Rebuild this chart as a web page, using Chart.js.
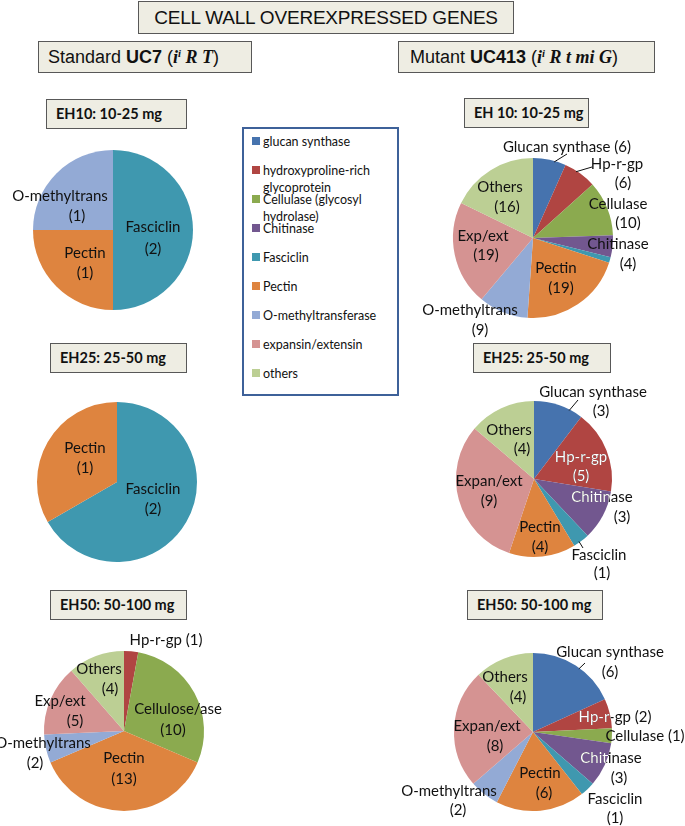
<!DOCTYPE html>
<html>
<head>
<meta charset="utf-8">
<script src="https://cdn.jsdelivr.net/npm/chart.js@4.4.1/dist/chart.umd.min.js"></script>
<style>
  body { margin: 0; background: #fff; }
  #page { position: relative; width: 685px; height: 826px; overflow: hidden; font-family: Lato, "Open Sans", sans-serif; }
  .box { position: absolute; box-sizing: border-box; background: #eeede3; border: 1px solid #585858; white-space: nowrap; }
  .head { font-family: "Liberation Sans", Arial, sans-serif; color: #111; }
  .serif { font-family: "Liberation Serif", "Times New Roman", serif; font-style: italic; font-weight: bold; }
  .serif sup { font-size: 60%; vertical-align: 6px; line-height: 0; }
  .sub { font-weight: bold; font-size: 14.5px; color: #111; line-height: 28px; padding-left: 9px; }
  #legend { position: absolute; left: 242px; top: 127px; width: 157px; height: 269px; box-sizing: border-box; border: 2px solid #3e6199; background: #fff; }
  .lg-sw { position: absolute; width: 8px; height: 8px; }
  .lg-tx { position: absolute; font-size: 12.5px; line-height: 17px; color: #111; white-space: nowrap; }
  canvas { position: absolute; }
</style>
</head>
<body>
<div id="page">
  <div class="box head" style="left:138px;top:1px;width:376px;height:33px;font-size:19px;letter-spacing:-0.2px;text-align:center;line-height:31px;">CELL WALL OVEREXPRESSED GENES</div>
  <div class="box head" style="left:38px;top:41px;width:214px;height:32px;font-size:18px;line-height:30px;padding-left:9px;">Standard <b>UC7</b> (<span class="serif">i<sup>i</sup> R T</span>)</div>
  <div class="box head" style="left:398px;top:41px;width:257px;height:32px;font-size:18px;line-height:30px;padding-left:11px;">Mutant <b>UC413</b> (<span class="serif">i<sup>i</sup> R t mi G</span>)</div>

  <div class="box sub" style="left:46px;top:99px;width:141px;height:30px;">EH10: 10-25 mg</div>
  <div class="box sub" style="left:464px;top:98px;width:125px;height:30px;">EH 10: 10-25 mg</div>
  <div class="box sub" style="left:50px;top:343px;width:137px;height:30px;">EH25: 25-50 mg</div>
  <div class="box sub" style="left:473px;top:343px;width:138px;height:30px;">EH25: 25-50 mg</div>
  <div class="box sub" style="left:50px;top:590px;width:137px;height:30px;">EH50: 50-100 mg</div>
  <div class="box sub" style="left:467px;top:590px;width:136px;height:30px;">EH50: 50-100 mg</div>

  <div id="legend"></div>

  <canvas id="s10"></canvas>
  <canvas id="m10"></canvas>
  <canvas id="s25"></canvas>
  <canvas id="m25"></canvas>
  <canvas id="s50"></canvas>
  <canvas id="m50"></canvas>
</div>

<script>
// Gene categories (legend order = slice order, clockwise from 12 o'clock)
const categories = [
  ["glucan synthase"],
  ["hydroxyproline-rich", "glycoprotein"],
  ["Cellulase (glycosyl", "hydrolase)"],
  ["Chitinase"],
  ["Fasciclin"],
  ["Pectin"],
  ["O-methyltransferase"],
  ["expansin/extensin"],
  ["others"]
];

// Number of overexpressed genes per category
const standardEH10 = [0, 0, 0, 0, 2, 1, 1, 0, 0];
const standardEH25 = [0, 0, 0, 0, 2, 1, 0, 0, 0];
const standardEH50 = [0, 1, 10, 0, 0, 13, 2, 5, 4];
const mutantEH10 = [6, 6, 10, 4, 1, 19, 9, 19, 16];
const mutantEH25 = [3, 5, 0, 3, 1, 4, 0, 9, 4];
const mutantEH50 = [6, 2, 1, 3, 1, 6, 2, 8, 4];

const colors = ["#4673ae", "#b04542", "#8baa4f", "#72578f", "#3f98af",
                "#de843f", "#93aad5", "#d59392", "#bccf94"];

// Legend
const legendEl = document.getElementById("legend");
categories.forEach((lines, i) => {
  const yc = 141 + 29 * i - 127 - 2;
  const sw = document.createElement("div");
  sw.className = "lg-sw";
  sw.style.background = colors[i];
  sw.style.left = (252 - 244) + "px";
  sw.style.top = (yc - 4) + "px";
  legendEl.appendChild(sw);
  const tx = document.createElement("div");
  tx.className = "lg-tx";
  tx.style.left = (263 - 244) + "px";
  tx.style.top = (yc - 8.5) + "px";
  tx.innerHTML = lines.join("<br>");
  legendEl.appendChild(tx);
});

// Slice labels: [text, x, y, slice index for white text inside that slice]
// Leaders: [slice index, position along the arc (0..1), end x, end y]
const pies = [
  { id: "s10", data: standardEH10, cx: 113, cy: 230, r: 80, x0: 0, y0: 132, w: 240, h: 200,
    texts: [["O-methyltrans", 60, 196], ["(1)", 77, 216], ["Pectin", 85, 253], ["(1)", 85, 273],
            ["Fasciclin", 153, 227], ["(2)", 153, 249]],
    leaders: [] },
  { id: "m10", data: mutantEH10, cx: 533, cy: 238, r: 80, x0: 395, y0: 135, w: 290, h: 208,
    texts: [["Glucan synthase (6)", 567, 147], ["Hp-r-gp", 617, 164], ["(6)", 623, 183],
            ["Cellulase", 618, 204], ["(10)", 628, 223], ["Chitinase", 618, 244], ["(4)", 628, 264],
            ["Pectin", 556, 268], ["(19)", 561, 288], ["O-methyltrans", 470, 310], ["(9)", 480, 330],
            ["Exp/ext", 483, 236], ["(19)", 486, 255], ["Others", 500, 187], ["(16)", 507, 207]],
    leaders: [[0, 0.65, 567, 154], [1, 0.375, 592, 167]] },
  { id: "s25", data: standardEH25, cx: 117, cy: 482, r: 80, x0: 0, y0: 390, w: 240, h: 180,
    texts: [["Pectin", 85, 448], ["(1)", 85, 468], ["Fasciclin", 153, 489], ["(2)", 153, 509]],
    leaders: [] },
  { id: "m25", data: mutantEH25, cx: 534, cy: 479, r: 78, x0: 395, y0: 378, w: 290, h: 206,
    texts: [["Glucan synthase", 593, 392], ["(3)", 601, 411], ["Others", 509, 430], ["(4)", 522, 449],
            ["Hp-r-gp", 581, 457, 1], ["(5)", 581, 476, 1], ["Chitinase", 602, 497, 3], ["(3)", 622, 517],
            ["Expan/ext", 489, 481], ["(9)", 489, 501], ["Pectin", 540, 527], ["(4)", 540, 547],
            ["Fasciclin", 599, 555], ["(1)", 602, 573]],
    leaders: [[0, 0.73, 578, 400], [4, 0.62, 583, 548]] },
  { id: "s50", data: standardEH50, cx: 124, cy: 731, r: 80, x0: 0, y0: 628, w: 240, h: 198,
    texts: [["Hp-r-gp (1)", 166, 640], ["Others", 99, 669], ["(4)", 110, 689],
            ["Cellulose/ase", 178, 709], ["(10)", 173, 730], ["Exp/ext", 60, 701], ["(5)", 75, 721],
            ["O-methyltrans", 43, 743], ["(2)", 35, 763], ["Pectin", 124, 758], ["(13)", 124, 779]],
    leaders: [] },
  { id: "m50", data: mutantEH50, cx: 533, cy: 732, r: 79, x0: 395, y0: 636, w: 290, h: 190,
    texts: [["Glucan synthase", 610, 652], ["(6)", 610, 672], ["Others", 505, 677], ["(4)", 518, 697],
            ["Hp-r-gp (2)", 615, 717, 1], ["Cellulase (1)", 645, 736], ["Chitinase", 611, 758, 3],
            ["(3)", 619, 778], ["Expan/ext", 487, 726], ["(8)", 495, 746], ["Pectin", 540, 773],
            ["(6)", 544, 793], ["O-methyltrans", 449, 791], ["(2)", 458, 810],
            ["Fasciclin", 615, 799], ["(1)", 615, 818]],
    leaders: [[0, 0.55, 585, 663]] }
];

function labelPlugin(p) {
  return {
    id: "labels_" + p.id,
    afterDatasetsDraw(chart) {
      const ctx = chart.ctx;
      const arcs = chart.getDatasetMeta(0).data;
      const cx = arcs[0].x, cy = arcs[0].y, r = arcs[0].outerRadius;
      ctx.save();
      ctx.strokeStyle = "#111";
      ctx.lineWidth = 1;
      p.leaders.forEach(([i, at, ex, ey]) => {
        const a = arcs[i];
        const ang = a.startAngle + (a.endAngle - a.startAngle) * at;
        ctx.beginPath();
        ctx.moveTo(cx + (r - 1) * Math.cos(ang), cy + (r - 1) * Math.sin(ang));
        ctx.lineTo(ex - p.x0, ey - p.y0);
        ctx.stroke();
      });
      ctx.font = "15px Lato, 'Open Sans', sans-serif";
      ctx.textAlign = "center";
      ctx.textBaseline = "middle";
      p.texts.forEach(([t, x, y, inv]) => {
        ctx.fillStyle = "#111";
        ctx.fillText(t, x - p.x0, y - p.y0);
        if (inv !== undefined) {
          const a = arcs[inv];
          ctx.save();
          ctx.beginPath();
          ctx.moveTo(cx, cy);
          ctx.arc(cx, cy, r, a.startAngle, a.endAngle);
          ctx.closePath();
          ctx.clip();
          ctx.fillStyle = "#fff";
          ctx.fillText(t, x - p.x0, y - p.y0);
          ctx.restore();
        }
      });
      ctx.restore();
    }
  };
}

pies.forEach(p => {
  const canvas = document.getElementById(p.id);
  canvas.width = p.w;
  canvas.height = p.h;
  canvas.style.left = p.x0 + "px";
  canvas.style.top = p.y0 + "px";
  const lx = p.cx - p.r - p.x0, ty = p.cy - p.r - p.y0;
  new Chart(canvas, {
    type: "pie",
    data: {
      labels: categories.map(c => c.join(" ")),
      datasets: [{ data: p.data, backgroundColor: colors, borderWidth: 0, hoverOffset: 0 }]
    },
    options: {
      responsive: false,
      animation: false,
      events: [],
      radius: p.r,
      layout: { padding: { left: lx, top: ty, right: p.w - lx - 2 * p.r, bottom: p.h - ty - 2 * p.r } },
      plugins: { legend: { display: false }, tooltip: { enabled: false } }
    },
    plugins: [labelPlugin(p)]
  });
});
</script>
</body>
</html>
